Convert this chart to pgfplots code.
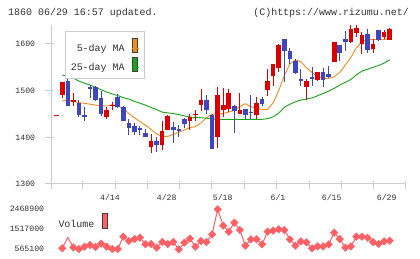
\documentclass[border=0pt]{standalone}
\usepackage{pgfplots}
\usepackage{pgfplotstable}
\pgfplotsset{compat=1.18}
\usepackage{fontspec}
\setmainfont{Liberation Mono}

\definecolor{cRed}{RGB}{221,0,0}
\definecolor{cBlue}{RGB}{62,70,190}
\definecolor{cOrange}{RGB}{242,140,28}
\definecolor{cGreen}{RGB}{24,164,24}
\definecolor{cVol}{RGB}{255,96,100}
\definecolor{cAxis}{RGB}{204,204,204}
\definecolor{cText}{RGB}{51,51,51}
\definecolor{cEdge}{RGB}{64,64,64}

% daily candles: index, open, high, low, close
\pgfplotstableread{
i o h l c
0 1446 1448 1446 1448
1 1491 1519 1484 1519
3 1475 1494 1467 1480
9 1444 1466 1439 1459
10 1467 1476 1459 1470
17 1380 1408 1367 1392
19 1384 1435 1373 1414
20 1416 1448 1415 1446
24 1434 1451 1416 1443
25 1447 1458 1434 1451
26 1469 1504 1457 1480
29 1401 1508 1378 1491
30 1459 1506 1443 1469
31 1460 1504 1455 1494
33 1451 1496 1451 1459
36 1448 1487 1439 1473
38 1501 1546 1489 1521
39 1532 1557 1509 1557
40 1549 1600 1541 1598
45 1507 1524 1481 1521
47 1523 1541 1520 1541
50 1562 1604 1562 1604
53 1605 1640 1603 1632
54 1624 1640 1614 1634
55 1600 1626 1579 1619
57 1589 1611 1580 1599
59 1616 1630 1611 1625
60 1609 1634 1608 1632
}\upT

\pgfplotstableread{
i o h l c
2 1521 1539 1467 1467
4 1474 1480 1444 1448
5 1448 1464 1436 1445
6 1508 1513 1484 1505
7 1507 1510 1478 1481
8 1485 1500 1446 1450
11 1487 1493 1462 1465
12 1466 1467 1436 1436
13 1430 1439 1406 1421
14 1424 1431 1405 1412
15 1419 1424 1405 1415
16 1410 1417 1400 1401
18 1392 1400 1369 1384
21 1422 1432 1388 1416
22 1418 1426 1400 1415
23 1440 1442 1421 1429
27 1480 1491 1451 1459
28 1448 1451 1376 1376
32 1467 1469 1410 1457
34 1460 1460 1440 1447
35 1455 1491 1439 1453
37 1482 1487 1468 1471
41 1610 1610 1519 1584
42 1585 1591 1558 1567
43 1564 1567 1535 1537
44 1524 1546 1510 1521
46 1529 1550 1510 1526
48 1541 1548 1507 1523
49 1536 1553 1528 1530
51 1598 1598 1564 1581
52 1611 1628 1584 1605
56 1621 1632 1580 1587
58 1630 1630 1607 1609
}\downT

% moving averages and volume by day index
\pgfplotstableread{
i ma5 ma25 vol
1 1478 1533.5 611000
2 1480 1531 1135000
3 1478 1527 659000
4 1474 1520.5 579000
5 1473 1516 690000
6 1471 1512 770000
7 1469 1507 675000
8 1468 1502 833000
9 1467 1497 690000
10 1470 1493 579000
11 1467 1489.5 579000
12 1462 1485 1166000
13 1451 1482 960000
14 1442 1477 1055000
15 1434 1473 1119000
16 1426 1469 802000
17 1417 1464 817000
18 1407 1459.5 643000
19 1402 1454 913000
20 1402 1452.5 817000
21 1406 1451 913000
22 1411 1448.5 565100
23 1416 1446 881000
24 1421 1443.5 1071000
25 1423 1442.5 690000
26 1431 1442 960000
27 1442 1441 913000
28 1450 1439.5 1279000
29 1450 1438.6 2468900
30 1451 1438.6 1690000
31 1454 1438.6 1404000
32 1458 1438.6 1833000
33 1466 1438.6 1484000
34 1472 1438.6 738000
35 1466 1438.6 1040000
36 1462 1438.6 1040000
37 1460 1438.6 802000
38 1460 1440 1404000
39 1474 1444 1452000
40 1500 1452 1515000
41 1532 1464 1484000
42 1557 1471 1040000
43 1566 1476 738000
44 1562 1480 944000
45 1549 1482 897000
46 1539 1484.5 611000
47 1530 1489 706000
48 1527 1494 706000
49 1526 1499 802000
50 1530 1505 1357000
51 1539 1512 1055000
52 1555 1518 643000
53 1571 1524 706000
54 1592 1534 1166000
55 1605 1542 1166000
56 1609 1546 1119000
57 1610 1550 913000
58 1610 1554 817000
59 1610 1559 944000
60 1610 1566 976000
}\dayT

\pgfplotsset{
  candle/.style 2 args={draw=none, mark=none, forget plot,
    error bars/.cd, y dir=both, y explicit, error mark=none,
    error bar style={draw=#1, line width=#2}},
}

\begin{document}
\begin{tikzpicture}[x=1bp,y=1bp]
\path[use as bounding box, fill=white] (0,0) rectangle (420,259);

\node[anchor=west, inner sep=0pt, text=cText, font=\fontsize{10}{12}\selectfont] at (8,246.3) {1860 06/29 16:57 updated.};
\node[anchor=east, inner sep=0pt, text=cText, font=\fontsize{10}{12}\selectfont] at (409,246.3) {(C)https://www.rizumu.net/};

% price pane
\begin{axis}[
  at={(51bp,75bp)}, anchor=south west,
  scale only axis, width=354.7bp, height=159bp,
  xmin=-1.027, xmax=62.88, ymin=1300, ymax=1640.7,
  axis x line*=bottom, axis y line*=left,
  axis line style={cAxis, line width=1bp},
  xtick={-1.027,4.685,10.505,16.27,22.09,27.93,33.80,39.64,45.46,51.23,57.05,62.88},
  xticklabels={},
  ytick={1300,1400,1500,1600},
  yticklabels={1300,1400,1500,1600},
  tick align=center, major tick length=8bp,
  xtick style={cAxis, line width=1bp, yshift=-1.5bp},
  ytick style={cAxis, line width=1bp, xshift=-1.5bp},
  yticklabel style={font=\fontsize{8.2}{9}\selectfont, text=cText, inner sep=0pt, anchor=east, xshift=-11.7bp},
  clip=false,
  legend plot pos=right,
  legend cell align=right,
  legend style={at={(0.0403,0.9642)}, anchor=north west, draw=cAxis, line width=1bp, fill=white,
    font=\fontsize{10}{12}\selectfont, text=cText, inner xsep=5bp, inner ysep=6.5bp,
    row sep=4.4bp, column sep=7.4bp, nodes={inner sep=0pt}},
]
\addplot[cOrange, line width=0.9bp,
  legend image code/.code={\draw[draw=cEdge, fill=cOrange, line width=0.8bp] (0bp,-3.7bp) rectangle (5bp,10.3bp); \path (0bp,0bp) -- (6.6bp,0bp);}]
  table[x=i, y=ma5] {\dayT};
\addlegendentry{5-day MA}
\addplot[cGreen, line width=0.9bp,
  legend image code/.code={\draw[draw=cEdge, fill=cGreen, line width=0.8bp] (0bp,-3.7bp) rectangle (5bp,10.3bp); \path (0bp,0bp) -- (6.6bp,0bp);}]
  table[x=i, y=ma25] {\dayT};
\addlegendentry{25-day MA}

% wicks
\addplot[candle={cRed}{1bp}]
  table[x=i, y expr={(\thisrow{h}+\thisrow{l})/2}, y error expr={(\thisrow{h}-\thisrow{l})/2}] {\upT};
\addplot[candle={cBlue}{1bp}]
  table[x=i, y expr={(\thisrow{h}+\thisrow{l})/2}, y error expr={(\thisrow{h}-\thisrow{l})/2}] {\downT};
% bodies
\addplot[candle={cRed}{4.6bp}]
  table[x=i, y expr={(\thisrow{o}+\thisrow{c})/2}, y error expr={abs(\thisrow{c}-\thisrow{o})/2}] {\upT};
\addplot[candle={cBlue}{4.6bp}]
  table[x=i, y expr={(\thisrow{o}+\thisrow{c})/2}, y error expr={abs(\thisrow{c}-\thisrow{o})/2}] {\downT};
\end{axis}

% volume pane
\begin{axis}[
  at={(51bp,4bp)}, anchor=south west,
  scale only axis, width=354.7bp, height=52bp,
  xmin=-1.027, xmax=62.88, ymin=293800, ymax=2768700,
  axis line style={draw=none}, tick style={draw=none},
  scaled y ticks=false, scaled x ticks=false,
  xtick={9.6,19.82,29.9,39.87,49.55,59.46},
  xticklabels={4/14,4/28,5/18,6/1,6/15,6/29},
  xticklabel pos=upper,
  xticklabel style={font=\fontsize{8.2}{9}\selectfont, text=cText, inner sep=0pt, anchor=center, yshift=5bp},
  ytick={565100,1517000,2468900},
  yticklabels={565100,1517000,2468900},
  yticklabel style={font=\fontsize{8.2}{9}\selectfont, text=cText, inner sep=0pt, anchor=east, xshift=-6.7bp},
  clip=false,
  legend plot pos=right,
  legend style={at={(0.0206,0.802)}, anchor=north west, draw=none, fill=none,
    font=\fontsize{10}{12}\selectfont, text=cText, inner sep=0pt,
    column sep=7.4bp, nodes={inner sep=0pt}},
]
\addplot[cVol, line width=1bp, mark=square*, mark size=2.4bp,
  mark options={rotate=45, fill=cVol, draw=cVol},
  mark indices={1,3,4,...,60},
  legend image code/.code={\draw[draw=cEdge, fill=cVol, line width=0.8bp] (0bp,-4.5bp) rectangle (5.6bp,10.5bp);}]
  table[x=i, y=vol] {\dayT};
\addlegendentry{Volume}
\end{axis}
\end{tikzpicture}
\end{document}
